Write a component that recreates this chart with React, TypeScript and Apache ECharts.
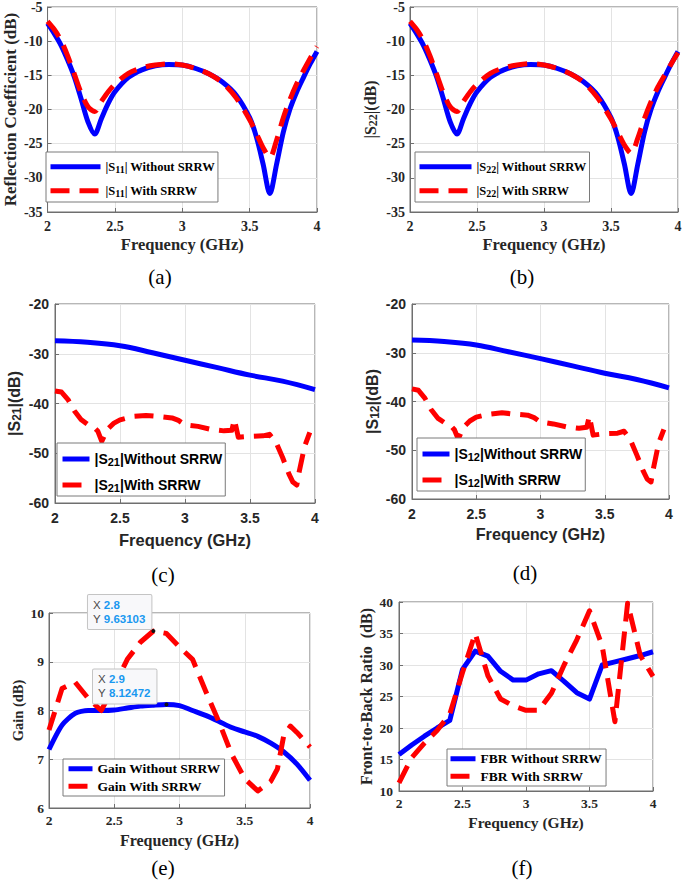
import React, { useEffect, useRef } from "react";
import * as echarts from "echarts";

// ---------------- data ----------------
const freqS = [2.0, 2.05, 2.1, 2.15, 2.2, 2.25, 2.3, 2.35, 2.4, 2.45, 2.5, 2.6, 2.7, 2.8, 2.9, 3.0, 3.1, 3.2, 3.3, 3.4, 3.5, 3.55, 3.6, 3.65, 3.7, 3.75, 3.8, 3.85, 3.9, 3.95, 4.0];
const s11Without = [-7.4, -8.9, -10.6, -12.8, -15.3, -18.5, -21.8, -23.6, -21.3, -19.1, -17.4, -15.3, -14.2, -13.6, -13.4, -13.5, -14.0, -14.8, -16.0, -17.9, -21.2, -24.0, -28.0, -32.3, -28.0, -23.3, -19.9, -17.4, -15.3, -13.3, -11.5];
const s11With = [-7.1, -8.3, -9.9, -12.2, -14.9, -17.6, -19.6, -20.3, -18.8, -17.4, -16.3, -14.7, -13.9, -13.5, -13.3, -13.5, -14.0, -14.8, -16.1, -18.3, -21.5, -23.5, -25.6, -27.0, -24.5, -21.2, -18.5, -16.2, -14.3, -12.5, -10.8];
const s22Without = [-7.4, -8.9, -10.6, -12.8, -15.3, -18.5, -21.8, -23.6, -21.3, -19.1, -17.4, -15.3, -14.2, -13.6, -13.4, -13.5, -14.0, -14.8, -16.0, -17.9, -21.2, -24.0, -28.0, -32.3, -28.0, -23.3, -19.9, -17.4, -15.3, -13.3, -11.5];
const s22With = [-7.1, -8.3, -9.9, -12.2, -14.9, -17.6, -19.6, -20.3, -18.8, -17.4, -16.3, -14.7, -13.9, -13.5, -13.3, -13.5, -14.0, -14.8, -16.1, -18.3, -21.4, -23.3, -25.2, -26.4, -24.2, -21.3, -18.8, -16.7, -15.0, -13.3, -11.7];

const freqT = [2.0, 2.25, 2.5, 2.75, 3.0, 3.25, 3.5, 3.75, 4.0];
const s21Without = [-27.4, -27.7, -28.4, -29.8, -31.3, -32.8, -34.3, -35.5, -37.2];
const s12Without = [-27.4, -27.7, -28.4, -29.8, -31.2, -32.7, -34.2, -35.5, -37.2];

const freqTW = [2.0, 2.05, 2.1, 2.15, 2.2, 2.25, 2.3, 2.33, 2.36, 2.4, 2.45, 2.5, 2.6, 2.7, 2.8, 2.9, 2.95, 3.0, 3.1, 3.2, 3.3, 3.36, 3.38, 3.41, 3.5, 3.6, 3.65, 3.7, 3.75, 3.8, 3.83, 3.86, 3.88, 3.92, 3.96];
const s21With = [-37.5, -37.7, -39.2, -41.5, -43.2, -44.2, -44.8, -45.6, -47.6, -45.3, -44.0, -43.3, -42.6, -42.4, -42.6, -42.9, -43.4, -44.3, -44.6, -45.2, -45.5, -45.4, -43.2, -46.8, -46.6, -46.5, -46.2, -47.8, -50.8, -54.2, -55.8, -56.4, -53.5, -48.6, -45.8];
const s12With = [-37.4, -37.7, -39.3, -41.7, -43.4, -44.3, -44.9, -45.8, -47.7, -45.3, -44.0, -43.2, -42.6, -42.3, -42.6, -42.8, -43.3, -44.2, -44.6, -45.2, -45.5, -45.3, -43.0, -46.9, -46.6, -46.5, -46.1, -47.9, -51.0, -54.3, -55.9, -56.5, -53.6, -48.5, -45.7];

const freqG = [2.0, 2.1, 2.2, 2.3, 2.4, 2.5, 2.6, 2.7, 2.8, 2.9, 3.0, 3.1, 3.2, 3.3, 3.4, 3.5, 3.6, 3.7, 3.8, 3.9, 4.0];
const gainWithout = [7.2, 7.7, 7.94, 8.0, 8.0, 8.01, 8.05, 8.09, 8.11, 8.12472, 8.1, 8.0, 7.9, 7.78, 7.65, 7.56, 7.47, 7.33, 7.15, 6.9, 6.57];
const freqGW = [2.0, 2.1, 2.2, 2.3, 2.4, 2.5, 2.6, 2.7, 2.8, 2.9, 3.0, 3.1, 3.2, 3.3, 3.4, 3.5, 3.6, 3.7, 3.75, 3.8, 3.85, 3.9, 4.0];
const gainWith = [7.6, 8.45, 8.58, 8.25, 8.0, 8.5, 9.05, 9.4, 9.63103, 9.58, 9.3, 9.05, 8.4, 7.78, 7.1, 6.6, 6.35, 6.55, 6.8, 7.5, 7.68, 7.55, 7.25];
const gainTips = [
  { x: 2.8, y: 9.63103 },
  { x: 2.9, y: 8.12472 },
];

const fbrWithout = [15.8, 17.3, 18.7, 20.0, 21.2, 29.3, 32.2, 31.4, 29.0, 27.6, 27.6, 28.6, 29.1, 27.4, 25.6, 24.6, 30.0, 30.5, 31.0, 31.5, 32.1];
const fbrWith = [11.3, 15.3, 17.6, 19.6, 22.2, 28.8, 35.0, 28.3, 24.6, 23.5, 22.8, 22.8, 25.5, 30.0, 34.0, 38.6, 33.0, 21.0, 39.8, 31.5, 28.2];

const captions = ["(a)", "(b)", "(c)", "(d)", "(e)", "(f)"];

// ---------------- styling ----------------
const SERIF = "'Liberation Serif', 'Times New Roman', Times, serif";
const SANS = "'Liberation Sans', Arial, Helvetica, sans-serif";
const AX = "#6f6f6f";
const GRIDC = "#e3e3e3";
const TXT = "#262626";
const BLUE = "#0000ff";
const RED = "#ff0000";
const DASH = [19, 10];

const zip = (xs: number[], ys: number[]) => xs.map((x, i) => [x, ys[i]]);

const subRich = (font: string, size: number, pad: number, color: string) => ({
  sb: {
    fontFamily: font,
    fontWeight: "bold",
    fontSize: size,
    lineHeight: size,
    padding: [pad, 0, 0, 0],
    verticalAlign: "bottom",
    color,
  },
});

const withSub = (s: string) => s.replace(/\|S(\d+)\|/, "|S{sb|$1}|");

const panels: any[] = [
  {
    grid: { left: 43, top: 7, width: 274, height: 205 },
    font: SERIF, tick: 14, xNameSize: 16.5, yNameSize: 17,
    xGap: 24, yGap: 25, xMargin: 7, yMargin: 5,
    yMin: -35, yMax: -5, yInt: 5,
    yName: "Reflection Coefficient (dB)",
    blue: { name: "|S11| Without SRRW", data: zip(freqS, s11Without), smooth: 0.3 },
    red: { name: "|S11| With SRRW", data: zip(freqS, s11With), smooth: 0.3 },
    legend: { left: 46, top: 152, fontSize: 12.5, subSize: 10, itemWidth: 50, itemGap: 5, padding: [3, 3, 4, 2] },
    caption: { x: 160, y: 277 },
  },
  {
    grid: { left: 410, top: 7, width: 268, height: 205 },
    font: SERIF, tick: 14, xNameSize: 16.5, yNameSize: 16,
    xGap: 24, yGap: 31, xMargin: 7, yMargin: 5,
    yMin: -35, yMax: -5, yInt: 5,
    yName: "|S{sb|22}|(dB)",
    blue: { name: "|S22| Without SRRW", data: zip(freqS, s22Without), smooth: 0.3 },
    red: { name: "|S22| With SRRW", data: zip(freqS, s22With), smooth: 0.3 },
    legend: { left: 415, top: 152, fontSize: 12.5, subSize: 10, itemWidth: 52, itemGap: 5, padding: [3, 3, 4, 2] },
    caption: { x: 522, y: 277 },
  },
  {
    grid: { left: 53, top: 304, width: 262, height: 199 },
    font: SANS, tick: 14, xNameSize: 16.5, yNameSize: 16,
    xGap: 28, yGap: 32, xMargin: 8, yMargin: 6,
    yMin: -60, yMax: -20, yInt: 10,
    yName: "|S{sb|21}|(dB)",
    blue: { name: "|S21|Without SRRW", data: zip(freqT, s21Without), smooth: 0.4 },
    red: { name: "|S21|With SRRW", data: zip(freqTW, s21With), smooth: false },
    legend: { left: 57, top: 443, fontSize: 14, subSize: 11, itemWidth: 27, itemGap: 5, padding: [3, 3, 3, 3] },
    caption: { x: 163, y: 575 },
  },
  {
    grid: { left: 412, top: 304, width: 257, height: 195 },
    font: SANS, tick: 14, xNameSize: 16.2, yNameSize: 16,
    xGap: 27, yGap: 31, xMargin: 8, yMargin: 6,
    yMin: -60, yMax: -20, yInt: 10,
    yName: "|S{sb|12}|(dB)",
    blue: { name: "|S12|Without SRRW", data: zip(freqT, s12Without), smooth: 0.4 },
    red: { name: "|S12|With SRRW", data: zip(freqTW, s12With), smooth: false },
    legend: { left: 417, top: 438, fontSize: 14, subSize: 11, itemWidth: 27, itemGap: 5, padding: [3, 3, 3, 3] },
    caption: { x: 525, y: 573 },
  },
  {
    grid: { left: 49, top: 613, width: 261, height: 195 },
    font: SERIF, tick: 13.5, xNameSize: 16, yNameSize: 14.5,
    xGap: 24, yGap: 20, xMargin: 5, yMargin: 5,
    yMin: 6, yMax: 10, yInt: 1,
    yName: "Gain (dB)",
    blue: { name: "Gain Without SRRW", data: zip(freqG, gainWithout), smooth: 0.25 },
    red: { name: "Gain With SRRW", data: zip(freqGW, gainWith), smooth: false },
    tips: gainTips,
    legend: { left: 63, top: 759, fontSize: 13.5, subSize: 10, itemWidth: 24, itemGap: 2, padding: [2, 4, 2, 3] },
    caption: { x: 163, y: 868 },
  },
  {
    grid: { left: 399, top: 602, width: 254, height: 189 },
    font: SERIF, tick: 13.5, xNameSize: 15.5, yNameSize: 16,
    xGap: 23, yGap: 19, xMargin: 5, yMargin: 6,
    yMin: 10, yMax: 40, yInt: 5,
    yName: "Front-to-Back Ratio  (dB)",
    blue: { name: "FBR Without SRRW", data: zip(freqG, fbrWithout), smooth: false },
    red: { name: "FBR With SRRW", data: zip(freqG, fbrWith), smooth: false },
    legend: { left: 447, top: 749, fontSize: 13.5, subSize: 10, itemWidth: 25, itemGap: 2, padding: [2, 4, 2, 1] },
    caption: { x: 522, y: 868 },
  },
];

function tipLabel(t: { x: number; y: number }, distance: number, dy: number) {
  return {
    show: true,
    position: "left",
    distance,
    offset: [0, dy],
    formatter: () => `{k|X }{v|${t.x}}\n{k|Y }{v|${t.y}}`,
    backgroundColor: "#f8f8fa",
    borderColor: "#c4c4c4",
    borderWidth: 1,
    borderRadius: 1,
    padding: [3, 6, 3, 5],
    rich: {
      k: { fontFamily: SANS, fontSize: 11.5, lineHeight: 14, color: "#4a4a4a", align: "left" },
      v: { fontFamily: SANS, fontSize: 11.5, lineHeight: 14, color: "#1a98f0", fontWeight: "bold", align: "left" },
    },
  };
}

function tipMarker(t: { x: number; y: number } | undefined, distance: number, dy: number) {
  if (!t) return undefined;
  return {
    symbol: "circle",
    symbolSize: 4,
    itemStyle: { color: "#111111" },
    silent: true,
    data: [{ coord: [t.x, t.y], label: tipLabel(t, distance, dy) }],
  };
}

function buildOption() {
  const grid: any[] = [];
  const xAxis: any[] = [];
  const yAxis: any[] = [];
  const series: any[] = [];
  const legend: any[] = [];
  const graphic: any[] = [];

  panels.forEach((p, i) => {
    grid.push({
      ...p.grid,
      show: true,
      backgroundColor: "#ffffff",
      borderColor: AX,
      borderWidth: 1,
      containLabel: false,
    });
    const labelStyle = {
      fontFamily: p.font,
      fontWeight: "bold",
      fontSize: p.tick,
      color: TXT,
    };
    xAxis.push({
      type: "value",
      gridIndex: i,
      min: 2,
      max: 4,
      interval: 0.5,
      name: "Frequency (GHz)",
      nameLocation: "middle",
      nameGap: p.xGap,
      nameTextStyle: { fontFamily: p.font, fontWeight: "bold", fontSize: p.xNameSize, color: TXT },
      axisLine: { show: true, onZero: false, lineStyle: { color: AX, width: 1 } },
      axisTick: { show: true, inside: true, length: 4, lineStyle: { color: AX } },
      axisLabel: { ...labelStyle, margin: p.xMargin, showMinLabel: true, showMaxLabel: true },
      splitLine: { show: true, lineStyle: { color: GRIDC, width: 1 } },
    });
    yAxis.push({
      type: "value",
      gridIndex: i,
      min: p.yMin,
      max: p.yMax,
      interval: p.yInt,
      name: p.yName,
      nameLocation: "middle",
      nameGap: p.yGap,
      nameTextStyle: {
        fontFamily: p.font,
        fontWeight: "bold",
        fontSize: p.yNameSize,
        lineHeight: p.yNameSize + 2,
        color: TXT,
        rich: subRich(p.font, 12, 10, TXT),
      },
      axisLine: { show: true, onZero: false, lineStyle: { color: AX, width: 1 } },
      axisTick: { show: true, inside: true, length: 4, lineStyle: { color: AX } },
      axisLabel: { ...labelStyle, margin: p.yMargin, showMinLabel: true, showMaxLabel: true },
      splitLine: { show: true, lineStyle: { color: GRIDC, width: 1 } },
    });

    series.push({
      type: "line",
      name: p.blue.name,
      xAxisIndex: i,
      yAxisIndex: i,
      data: p.blue.data,
      symbol: "none",
      showSymbol: false,
      smooth: p.blue.smooth,
      lineStyle: { color: BLUE, width: 5, join: "round" },
      itemStyle: { color: BLUE },
      z: 2,
      markPoint: tipMarker(p.tips ? p.tips[1] : undefined, 8, -18),
    });
    series.push({
      type: "line",
      name: p.red.name,
      xAxisIndex: i,
      yAxisIndex: i,
      data: p.red.data,
      symbol: "none",
      showSymbol: false,
      smooth: p.red.smooth,
      lineStyle: { color: RED, width: 5, type: DASH, cap: "butt", join: "round" },
      itemStyle: { color: RED },
      z: 3,
      markPoint: tipMarker(p.tips ? p.tips[0] : undefined, 0, -19),
    });

    const L = p.legend;
    legend.push({
      show: true,
      orient: "vertical",
      left: L.left,
      top: L.top,
      data: [p.blue.name, p.red.name],
      backgroundColor: "#ffffff",
      borderColor: "#7a7a7a",
      borderWidth: 1,
      borderRadius: 0,
      padding: L.padding,
      itemWidth: L.itemWidth,
      itemHeight: 2,
      itemGap: L.itemGap,
      selectedMode: false,
      lineStyle: { width: 5 },
      itemStyle: { opacity: 0, borderWidth: 0 },
      textStyle: {
        fontFamily: p.font,
        fontWeight: "bold",
        fontSize: L.fontSize,
        lineHeight: L.fontSize + 2,
        color: "#000000",
        rich: subRich(p.font, L.subSize, L.subSize - 1, "#000000"),
      },
      formatter: (n: string) => withSub(n),
    });

    graphic.push({
      type: "text",
      x: p.caption.x,
      y: p.caption.y,
      silent: true,
      style: {
        text: captions[i],
        fontFamily: SERIF,
        fontSize: 21,
        fill: "#000000",
        align: "center",
        verticalAlign: "middle",
      },
    });
  });

  return {
    animation: false,
    backgroundColor: "#ffffff",
    grid,
    xAxis,
    yAxis,
    series,
    legend,
    graphic,
  };
}

export default function App() {
  const ref = useRef<HTMLDivElement>(null);
  useEffect(() => {
    if (!ref.current) return;
    const chart = echarts.init(ref.current, undefined, { renderer: "svg" });
    chart.setOption(buildOption() as any);
    return () => chart.dispose();
  }, []);
  return (
    <div
      ref={ref}
      style={{ position: "absolute", left: 0, top: 0, width: 685, height: 885, background: "#ffffff" }}
    />
  );
}
